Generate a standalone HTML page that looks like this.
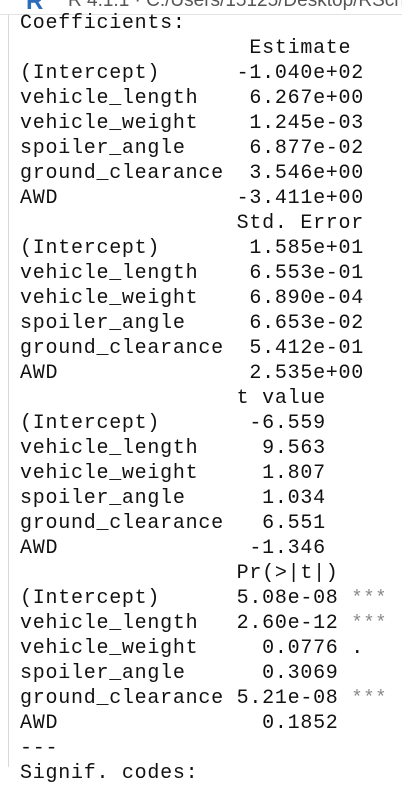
<!DOCTYPE html>
<html><head><meta charset="utf-8"><style>
html,body{margin:0;padding:0;width:402px;height:767px;overflow:hidden;background:#fff}
#bar{position:absolute;left:0;top:0;width:402px;height:14px;background:#fff;border-bottom:1px solid #e3e3e3;overflow:hidden}
#bar span{position:absolute;left:68px;top:-10px;font:19px "Liberation Sans",sans-serif;color:#555;white-space:nowrap}
#logo{position:absolute;left:26px;top:-12px;font:bold 24px "Liberation Sans",sans-serif;color:#2a6ebb}
#gutter{position:absolute;left:8px;top:15px;width:1px;height:752px;background:#d8d8d8}
pre{position:absolute;left:20px;top:11px;margin:0;font:20px/25px "Liberation Mono",monospace;letter-spacing:0.74px;color:#111}
.s{color:#888;font-size:19px;letter-spacing:0.5px}
</style></head><body>
<div id="bar"><div id="logo">R</div><span>R 4.1.1 · C:/Users/15125/Desktop/RScript/</span></div>
<div id="gutter"></div>
<pre>Coefficients:
                  Estimate
(Intercept)      -1.040e+02
vehicle_length    6.267e+00
vehicle_weight    1.245e-03
spoiler_angle     6.877e-02
ground_clearance  3.546e+00
AWD              -3.411e+00
                 Std. Error
(Intercept)       1.585e+01
vehicle_length    6.553e-01
vehicle_weight    6.890e-04
spoiler_angle     6.653e-02
ground_clearance  5.412e-01
AWD               2.535e+00
                 t value
(Intercept)       -6.559
vehicle_length     9.563
vehicle_weight     1.807
spoiler_angle      1.034
ground_clearance   6.551
AWD               -1.346
                 Pr(>|t|)
(Intercept)      5.08e-08 <span class="s">***</span>
vehicle_length   2.60e-12 <span class="s">***</span>
vehicle_weight     0.0776 .
spoiler_angle      0.3069
ground_clearance 5.21e-08 <span class="s">***</span>
AWD                0.1852
---
Signif. codes:</pre>
</body></html>
